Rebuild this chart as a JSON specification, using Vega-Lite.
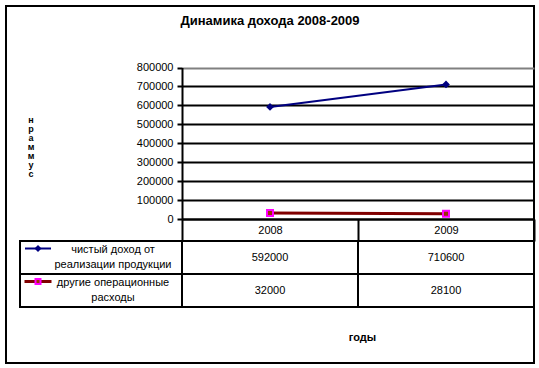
{
  "$schema": "https://vega.github.io/schema/vega-lite/v6.json",
  "width": 528,
  "height": 357,
  "autosize": {"type": "none"},
  "padding": {"left": 6, "top": 6, "right": 5, "bottom": 5},
  "background": "white",
  "title": {"text": "Динамика дохода 2008-2009", "anchor": "middle", "frame": "group", "offset": -22, "fontSize": 13, "fontWeight": "bold", "color": "black"},
  "config": {
    "font": "Liberation Sans",
    "view": {"stroke": "black", "strokeWidth": 2}
  },
  "data": {"values": [
    {"year": "2008", "series": "чистый доход от\nреализации продукции", "value": 592000},
    {"year": "2009", "series": "чистый доход от\nреализации продукции", "value": 710600},
    {"year": "2008", "series": "другие операционные\nрасходы", "value": 32000},
    {"year": "2009", "series": "другие операционные\nрасходы", "value": 28100}
  ]},
  "resolve": {"scale": {"x": "independent", "y": "independent"}},
  "layer": [
    {
      "transform": [{"filter": {"field": "series", "equal": "чистый доход от\nреализации продукции"}}],
      "mark": {"type": "line", "color": "#000080", "strokeWidth": 2},
      "encoding": {
        "x": {"field": "year", "type": "ordinal",
          "scale": {"type": "band", "domain": ["2008", "2009"], "range": [176, 528], "paddingInner": 0, "paddingOuter": 0},
          "axis": {"orient": "bottom", "offset": -144, "domainColor": "black", "domainWidth": 2, "tickBand": "extent", "tickSize": 22, "tickColor": "black", "tickWidth": 2, "labelFontSize": 11, "labelColor": "black", "labelBaseline": "middle", "labelPadding": -11, "labelAngle": 0, "grid": false, "title": "годы", "titleFontSize": 11, "titleFontWeight": "bold", "titleColor": "black", "titleX": 356, "titleY": 118, "titleAlign": "center", "titleBaseline": "middle"}},
        "y": {"field": "value", "type": "quantitative",
          "scale": {"domain": [0, 800000], "range": [213, 61.5], "nice": false, "zero": true},
          "axis": {"orient": "left", "offset": -176, "values": [0, 100000, 200000, 300000, 400000, 500000, 600000, 700000, 800000], "format": "d", "domainColor": "black", "domainWidth": 2, "tickColor": "black", "tickWidth": 2, "tickSize": 5, "labelFontSize": 11, "labelColor": "black", "labelPadding": 4, "labelFlush": false, "labelOverlap": false, "grid": true, "gridColor": {"condition": {"test": "datum.value == 800000", "value": "#808080"}, "value": "black"}, "gridWidth": 2, "title": ["н", "р", "а", "м", "м", "у", "с"], "titleAngle": 0, "titleFontSize": 9, "titleFontWeight": "bold", "titleLineHeight": 9, "titleX": -151.5, "titleY": 113, "titleAlign": "center", "titleBaseline": "middle", "titleColor": "black"}}
      }
    },
    {
      "transform": [{"filter": {"field": "series", "equal": "другие операционные\nрасходы"}}],
      "mark": {"type": "line", "color": "#800000", "strokeWidth": 3},
      "encoding": {
        "x": {"field": "year", "type": "ordinal", "scale": {"type": "band", "domain": ["2008", "2009"], "range": [176, 528], "paddingInner": 0, "paddingOuter": 0}, "axis": null},
        "y": {"field": "value", "type": "quantitative", "scale": {"domain": [0, 800000], "range": [213, 61.5], "nice": false, "zero": true}, "axis": null}
      }
    },
    {
      "transform": [{"filter": {"field": "series", "equal": "чистый доход от\nреализации продукции"}}],
      "mark": {"type": "point", "shape": "diamond", "filled": true, "color": "#000080", "size": 60, "opacity": 1},
      "encoding": {
        "x": {"field": "year", "type": "ordinal", "scale": {"type": "band", "domain": ["2008", "2009"], "range": [176, 528], "paddingInner": 0, "paddingOuter": 0}, "axis": null},
        "y": {"field": "value", "type": "quantitative", "scale": {"domain": [0, 800000], "range": [213, 61.5], "nice": false, "zero": true}, "axis": null}
      }
    },
    {
      "transform": [{"filter": {"field": "series", "equal": "другие операционные\nрасходы"}}],
      "mark": {"type": "point", "shape": "square", "filled": true, "fill": "#993300", "stroke": "#FF00FF", "strokeWidth": 2, "size": 36, "opacity": 1},
      "encoding": {
        "x": {"field": "year", "type": "ordinal", "scale": {"type": "band", "domain": ["2008", "2009"], "range": [176, 528], "paddingInner": 0, "paddingOuter": 0}, "axis": null},
        "y": {"field": "value", "type": "quantitative", "scale": {"domain": [0, 800000], "range": [213, 61.5], "nice": false, "zero": true}, "axis": null}
      }
    },
    {
      "mark": {"type": "rect", "fill": "transparent", "stroke": "black", "strokeWidth": 2},
      "encoding": {
        "x": {"field": "year", "type": "ordinal", "scale": {"type": "band", "domain": ["2008", "2009"], "range": [176, 528], "paddingInner": 0, "paddingOuter": 0}, "axis": null},
        "y": {"field": "series", "type": "nominal", "scale": {"type": "band", "domain": ["чистый доход от\nреализации продукции", "другие операционные\nрасходы"], "range": [235, 301], "paddingInner": 0, "paddingOuter": 0}, "axis": null}
      }
    },
    {
      "mark": {"type": "text", "fontSize": 11, "color": "black", "baseline": "middle", "align": "center"},
      "encoding": {
        "x": {"field": "year", "type": "ordinal", "scale": {"type": "band", "domain": ["2008", "2009"], "range": [176, 528], "paddingInner": 0, "paddingOuter": 0}, "axis": null},
        "y": {"field": "series", "type": "nominal", "scale": {"type": "band", "domain": ["чистый доход от\nреализации продукции", "другие операционные\nрасходы"], "range": [235, 301], "paddingInner": 0, "paddingOuter": 0}, "axis": null},
        "text": {"field": "value", "type": "quantitative", "format": "d"}
      }
    },
    {
      "transform": [{"filter": {"field": "year", "equal": "2008"}}],
      "mark": {"type": "rect", "fill": "transparent", "stroke": "black", "strokeWidth": 2},
      "encoding": {
        "x": {"datum": "легенда", "type": "nominal", "scale": {"type": "band", "domain": ["легенда"], "range": [14, 176], "paddingInner": 0, "paddingOuter": 0}, "axis": null},
        "y": {"field": "series", "type": "nominal", "scale": {"type": "band", "domain": ["чистый доход от\nреализации продукции", "другие операционные\nрасходы"], "range": [235, 301], "paddingInner": 0, "paddingOuter": 0}, "axis": null}
      }
    },
    {
      "transform": [{"filter": {"field": "year", "equal": "2008"}}],
      "mark": {"type": "text", "fontSize": 11, "color": "black", "baseline": "middle", "align": "center", "lineBreak": "\n", "lineHeight": 15, "dx": 12, "dy": -8},
      "encoding": {
        "x": {"datum": "легенда", "type": "nominal", "scale": {"type": "band", "domain": ["легенда"], "range": [14, 176], "paddingInner": 0, "paddingOuter": 0}, "axis": null},
        "y": {"field": "series", "type": "nominal", "scale": {"type": "band", "domain": ["чистый доход от\nреализации продукции", "другие операционные\nрасходы"], "range": [235, 301], "paddingInner": 0, "paddingOuter": 0}, "axis": null},
        "text": {"field": "series", "type": "nominal"}
      }
    },
    {
      "transform": [{"filter": {"field": "year", "equal": "2008"}}, {"filter": {"field": "series", "equal": "чистый доход от\nреализации продукции"}}],
      "mark": {"type": "tick", "orient": "horizontal", "color": "#000080", "thickness": 2, "size": 26, "xOffset": -63, "yOffset": -9, "opacity": 1},
      "encoding": {
        "x": {"datum": "легенда", "type": "nominal", "scale": {"type": "band", "domain": ["легенда"], "range": [14, 176], "paddingInner": 0, "paddingOuter": 0}, "axis": null},
        "y": {"field": "series", "type": "nominal", "scale": {"type": "band", "domain": ["чистый доход от\nреализации продукции", "другие операционные\nрасходы"], "range": [235, 301], "paddingInner": 0, "paddingOuter": 0}, "axis": null}
      }
    },
    {
      "transform": [{"filter": {"field": "year", "equal": "2008"}}, {"filter": {"field": "series", "equal": "другие операционные\nрасходы"}}],
      "mark": {"type": "tick", "orient": "horizontal", "color": "#800000", "thickness": 3, "size": 27, "xOffset": -63, "yOffset": -9, "opacity": 1},
      "encoding": {
        "x": {"datum": "легенда", "type": "nominal", "scale": {"type": "band", "domain": ["легенда"], "range": [14, 176], "paddingInner": 0, "paddingOuter": 0}, "axis": null},
        "y": {"field": "series", "type": "nominal", "scale": {"type": "band", "domain": ["чистый доход от\nреализации продукции", "другие операционные\nрасходы"], "range": [235, 301], "paddingInner": 0, "paddingOuter": 0}, "axis": null}
      }
    },
    {
      "transform": [{"filter": {"field": "year", "equal": "2008"}}, {"filter": {"field": "series", "equal": "чистый доход от\nреализации продукции"}}],
      "mark": {"type": "point", "shape": "diamond", "filled": true, "color": "#000080", "size": 50, "opacity": 1, "xOffset": -63, "yOffset": -9},
      "encoding": {
        "x": {"datum": "легенда", "type": "nominal", "scale": {"type": "band", "domain": ["легенда"], "range": [14, 176], "paddingInner": 0, "paddingOuter": 0}, "axis": null},
        "y": {"field": "series", "type": "nominal", "scale": {"type": "band", "domain": ["чистый доход от\nреализации продукции", "другие операционные\nрасходы"], "range": [235, 301], "paddingInner": 0, "paddingOuter": 0}, "axis": null}
      }
    },
    {
      "transform": [{"filter": {"field": "year", "equal": "2008"}}, {"filter": {"field": "series", "equal": "другие операционные\nрасходы"}}],
      "mark": {"type": "point", "shape": "square", "filled": true, "fill": "#993300", "stroke": "#FF00FF", "strokeWidth": 2, "size": 25, "opacity": 1, "xOffset": -63, "yOffset": -9},
      "encoding": {
        "x": {"datum": "легенда", "type": "nominal", "scale": {"type": "band", "domain": ["легенда"], "range": [14, 176], "paddingInner": 0, "paddingOuter": 0}, "axis": null},
        "y": {"field": "series", "type": "nominal", "scale": {"type": "band", "domain": ["чистый доход от\nреализации продукции", "другие операционные\nрасходы"], "range": [235, 301], "paddingInner": 0, "paddingOuter": 0}, "axis": null}
      }
    }
  ]
}
